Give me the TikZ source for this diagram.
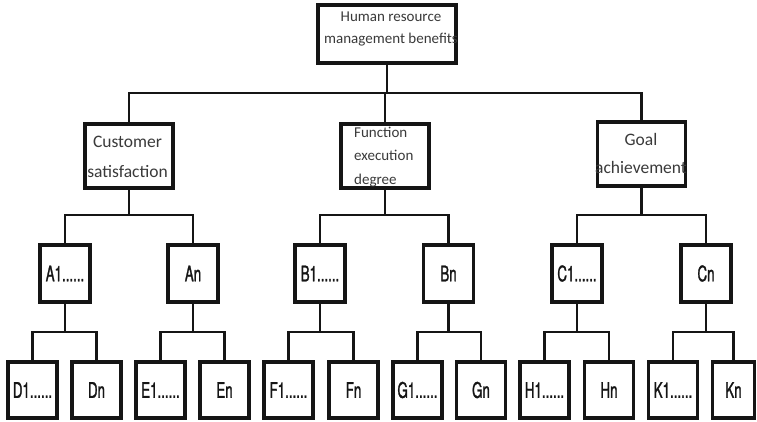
\documentclass[tikz,border=0pt]{standalone}
\usepackage{fontspec}
\setmainfont{Carlito}
\newfontfamily\condfont[FakeStretch=0.62, FakeBold=1.2]{TeX Gyre Heros}
\definecolor{ink}{HTML}{151515}
\definecolor{txt}{HTML}{3A3A3A}
\tikzset{
  box/.style={draw=ink, line width=3.3pt, fill=white, inner sep=0pt},
  topbox/.style={box, minimum width=138pt, minimum height=58pt},
  midbox/.style={box, minimum width=88pt, minimum height=64pt},
  subbox/.style={box, minimum width=50pt, minimum height=57pt,
    font=\condfont\fontsize{21.5}{21.5}\selectfont, text=ink},
  leafbox/.style={box, minimum width=49pt, minimum height=56pt,
    font=\condfont\fontsize{21.5}{21.5}\selectfont, text=ink},
  link/.style={draw=ink, line width=2.6pt},
  caption/.style={inner sep=0pt, text=txt, anchor=base},
}
% a parent joined to its two children by an elbow bar at height #4
\newcommand{\forkto}[4]{%
  \coordinate (bar-#1) at (0,#4);
  \draw[link] (#1.south) -- (#1.south |- bar-#1);
  \draw[link] (#2.north) -- (#2.north |- bar-#1) -- (#3.north |- bar-#1) -- (#3.north);
}
\begin{document}
\begin{tikzpicture}[x=1pt, y=-1pt]
\useasboundingbox[fill=white] (0,0) rectangle (757,421);

% top level
\node[topbox] (root) at (387,34) {};

% second level
\node[midbox] (cs) at (129,156) {};
\node[midbox] (fe) at (385,156) {};
\node[midbox] (ga) at (641.5,154) {};

% third level
\node[subbox] (a1) at (65,273.5) {A1......};
\node[subbox] (an) at (193,273.5) {An};
\node[subbox] (b1) at (320,273.5) {B1......};
\node[subbox] (bn) at (448.5,273.5) {Bn};
\node[subbox] (c1) at (577,273.5) {C1......};
\node[subbox] (cn) at (706,273.5) {Cn};

% leaves
\node[leafbox] (d1) at (32.5,390) {D1......};
\node[leafbox] (dn) at (96.5,390) {Dn};
\node[leafbox] (e1) at (160.5,390) {E1......};
\node[leafbox] (en) at (224.5,390) {En};
\node[leafbox] (f1) at (288.5,390) {F1......};
\node[leafbox] (fn) at (353.5,390) {Fn};
\node[leafbox] (g1) at (417.5,390) {G1......};
\node[leafbox] (gn) at (481,390) {Gn};
\node[leafbox] (h1) at (544.5,390) {H1......};
\node[leafbox] (hn) at (609,390) {Hn};
\node[leafbox] (k1) at (673,390) {K1......};
\node[leafbox, minimum width=42pt] (kn) at (733.5,390) {Kn};

% connectors
\coordinate (bar-top) at (0,93);
\draw[link] (root.south) -- (root.south |- bar-top);
\draw[link] (cs.north) -- (cs.north |- bar-top) -- (ga.north |- bar-top) -- (ga.north);
\draw[link] (fe.north) -- (fe.north |- bar-top);

\forkto{cs}{a1}{an}{215}
\forkto{fe}{b1}{bn}{215}
\forkto{ga}{c1}{cn}{215}

\forkto{a1}{d1}{dn}{332}
\forkto{an}{e1}{en}{332}
\forkto{b1}{f1}{fn}{332}
\forkto{bn}{g1}{gn}{332}
\forkto{c1}{h1}{hn}{332}
\forkto{cn}{k1}{kn}{332}

% captions of the upper boxes (anchored on the baseline of their last line)
\node[caption, align=center, font=\fontsize{15}{22}\selectfont] (root-t) at (391,43)
  {Human resource\\management benefits};
\node[caption, align=center, font=\fontsize{17.5}{30}\selectfont] (cs-t) at (127.5,177)
  {Customer\\satisfaction};
\node[caption, align=left, anchor=base west, font=\fontsize{15}{23.5}\selectfont] (fe-t) at (354,184)
  {Function\\execution\\degree};
\node[caption, align=center, font=\fontsize{17.5}{28}\selectfont] (ga-t) at (641,173)
  {Goal\\achievement};
\end{tikzpicture}
\end{document}
